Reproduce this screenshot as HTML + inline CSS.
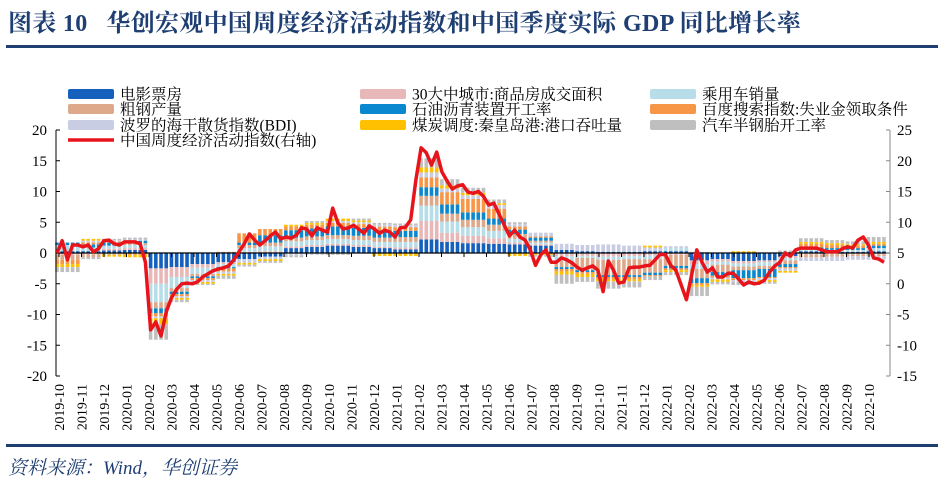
<!DOCTYPE html>
<html><head><meta charset="utf-8">
<style>
html,body{margin:0;padding:0;background:#fff;}
body{width:943px;height:484px;position:relative;overflow:hidden;font-family:"Liberation Serif","Noto Serif CJK SC",serif;}
#title{position:absolute;left:8px;top:3px;font-size:24px;font-weight:bold;color:#1F3F73;white-space:nowrap;letter-spacing:0.3px;}
#rule1{position:absolute;left:6px;top:45px;width:932px;height:3px;background:#1F3F73;}
#rule2{position:absolute;left:6px;top:444px;width:932px;height:3px;background:#1F3F73;}
#source{position:absolute;left:8px;top:453px;font-size:19px;font-style:italic;color:#1F3F73;}
svg{position:absolute;left:0;top:0;}
</style></head>
<body>
<div id="title">图表 10&nbsp;&nbsp;&nbsp;华创宏观中国周度经济活动指数和中国季度实际 GDP 同比增长率</div>
<div id="rule1"></div>
<svg id="chart" width="943" height="484"></svg>
<div id="rule2"></div>
<div id="source">资料来源：Wind，华创证券</div>
<script>
const monthLabels = ["2019-10","2019-11","2019-12","2020-01","2020-02","2020-03","2020-04","2020-05","2020-06","2020-07","2020-08","2020-09","2020-10","2020-11","2020-12","2021-01","2021-02","2021-03","2021-04","2021-05","2021-06","2021-07","2021-08","2021-09","2021-10","2021-11","2021-12","2022-01","2022-02","2022-03","2022-04","2022-05","2022-06","2022-07","2022-08","2022-09","2022-10"];
const seriesNames = ["电影票房","30大中城市:商品房成交面积","乘用车销量","粗钢产量","石油沥青装置开工率","百度搜索指数:失业金领取条件","波罗的海干散货指数(BDI)","煤炭调度:秦皇岛港:港口吞吐量","汽车半钢胎开工率"];
const seriesColors = ["#1560BD","#E8B8B8","#B7DDE8","#DDA98A","#0A88CF","#F79646","#C9CDE3","#FFC000","#BFBFBF"];
const leftTicks = [20,15,10,5,0,-5,-10,-15,-20];
const rightTicks = [25,20,15,10,5,0,-5,-10,-15];
// monthly contributions per component (left axis), order matches seriesNames
const movie   = [0.3,0.3,0.4,0.5,-2.5,-2.3,-1.8,-1.5,-1.0,-0.6,0.8,1.0,1.2,1.0,0.8,0.6,2.2,1.8,1.6,1.5,1.4,1.2,0.5,0.3,0.2,0.2,0.3,0.3,-1.2,-1.0,-1.3,-1.2,-0.5,0.3,0.2,0.2,0.3,0.2];
const housing = [-0.3,-0.2,0.3,0.3,-2.5,-1.6,-0.6,-0.3,0.2,0.3,0.3,0.3,0.3,0.3,0.2,0.3,3.0,1.5,1.2,0.9,0.3,0.2,-0.5,-0.5,-0.6,-0.5,-0.4,-0.3,-0.6,-0.4,-0.4,-0.3,-0.3,-0.2,-0.2,-0.2,-0.2,-0.2];
const cars    = [1.0,0.6,0.5,0.5,-3.0,-1.8,-1.0,-0.5,0.6,0.8,0.8,0.8,0.8,0.8,0.8,0.9,2.5,1.8,1.4,1.2,0.6,0.3,-0.8,-0.3,-0.5,-0.5,-0.6,0.5,-0.8,-0.5,-0.5,-0.6,-0.4,0.3,0.3,0.3,0.5,0.5];
const steel   = [-0.8,-0.5,-0.3,0.3,-1.0,-0.6,-0.4,0.2,0.5,0.6,0.6,0.6,0.6,0.7,0.7,0.8,1.6,1.3,1.2,1.0,0.8,0.3,-1.0,-2.0,-2.5,-2.6,-2.2,-1.8,-1.5,-1.2,-0.6,-0.5,-0.6,-0.5,-0.4,-0.3,-0.3,-0.3];
const asphalt = [0.4,0.5,0.5,0.4,-0.8,-0.4,-0.3,-0.2,0.4,1.2,1.2,1.3,1.4,1.3,1.2,1.0,1.4,1.5,1.2,1.0,0.7,0.5,-0.3,-0.3,-0.3,-0.3,-0.4,-0.4,-0.8,-0.6,-1.3,-1.3,-0.5,0.3,0.3,0.3,0.4,0.3];
const baidu   = [-0.7,0.3,0.2,-0.3,-0.5,-0.3,-0.3,-0.5,1.5,1.0,0.6,0.6,0.6,0.6,0.6,0.6,1.6,2.0,2.2,1.6,0.5,0.2,-0.4,-0.3,-0.4,-0.4,-0.2,-0.3,-0.3,-0.3,-0.3,-0.2,-0.2,0.6,0.5,0.4,0.3,-0.3];
const bdi     = [0,0.3,0.2,0.2,-0.3,-0.3,-0.3,-0.4,-0.6,-0.4,-0.4,-0.3,0.3,0.3,0.3,0.3,0.8,0.6,0.6,0.6,0.4,0.6,1.0,1.0,1.2,1.0,0.6,0.3,0.2,-0.3,-0.3,-0.3,-0.4,-0.6,-0.7,-0.6,-0.6,-0.6];
const coal    = [-0.5,0.3,-0.3,-0.4,-1.0,-0.3,-0.3,-0.3,-0.3,-0.3,0.3,0.3,0.4,0.3,-0.5,-0.5,0.8,0.5,0.4,0.3,-0.5,-0.3,-0.5,-0.5,-0.3,-0.3,0.3,-0.3,-0.3,-0.4,0.3,-0.3,-0.3,0.3,0.3,0.2,0.3,-1.0];
const tires   = [-0.8,-0.3,0.2,0.3,-2.5,-0.4,-0.2,-0.5,-0.3,-0.3,-0.3,0.3,-0.3,0.3,0.3,0.3,1.5,1.0,0.8,0.6,0.3,-0.3,-1.5,-0.8,-1.2,-1.0,-0.6,-0.5,-1.5,-0.4,-0.5,-0.3,0.4,0.6,0.5,0.5,0.8,0.5];
// weekly index (right axis)
const weeklyIndex = [5.0,7.0,3.9,6.3,6.3,6.0,6.3,5.2,5.7,7.0,7.1,6.5,6.3,6.8,6.8,6.8,6.5,3.5,-7.5,-6.2,-8.5,-4.6,-2.3,-0.9,0,0.1,0,0.3,1.1,1.6,2.1,2.4,2.6,2.9,3.9,5.2,6.5,8.1,7.1,6.3,7.0,7.8,8.4,7.3,7.6,7.4,7.9,9.1,8.9,7.8,9.1,8.7,8.4,12.3,9.9,8.9,9.1,9.5,8.9,8.2,9.4,8.9,8.2,8.7,8.4,7.6,9.1,9.2,10.4,16.9,22.1,21.3,19.3,21.4,18.2,16.7,15.4,15.9,16.1,14.9,14.7,15.0,14.2,12.8,13.1,11.3,9.5,7.8,8.7,7.6,7.1,5.5,3.0,4.7,5.5,3.5,3.5,4.2,3.9,3.4,2.7,2.2,2.6,2.9,2.2,-1.3,3.7,2.2,0.1,0.3,2.6,2.7,2.7,2.9,3.0,3.9,4.8,4.7,3.0,2.2,-0.2,-2.6,1.4,5.5,3.5,1.9,2.6,1.1,1.1,1.7,1.7,0.8,-0.2,0.3,0,0.1,0.6,1.9,2.9,3.5,5.0,4.5,5.5,5.8,5.8,5.8,5.8,5.5,5.2,5.2,5.2,5.7,6.0,5.8,7.1,7.6,6.3,4.2,4.0,3.5];
const components = [movie,housing,cars,steel,asphalt,baidu,bdi,coal,tires];

const NS="http://www.w3.org/2000/svg";
const svg=document.getElementById('chart');
const PL=56, PR=890, PT=130, PB=376;
const yL=v=>PT+(20-v)*(PB-PT)/40;
const yR=v=>PT+(25-v)*(PB-PT)/40;
const W0=57, DW=(884-57)/(weeklyIndex.length-1);
const xW=i=>W0+i*DW;
const xM=i=>59+22.5*i;
function mk(tag,attrs){const e=document.createElementNS(NS,tag);for(const k in attrs)e.setAttribute(k,attrs[k]);svg.appendChild(e);return e;}

// bars
const gBars=mk('g',{});


for(let w=0;w<weeklyIndex.length;w++){
  const m=Math.min(monthLabels.length-1,Math.max(0,Math.floor((xW(w)-57)/22.5)));
  let pos=0,neg=0;
  for(let s=0;s<components.length;s++){
    const v=components[s][m];
    if(v===0) continue;
    let y0,y1;
    if(v>0){y0=yL(pos+v);y1=yL(pos);pos+=v;}else{y0=yL(neg);y1=yL(neg+v);neg+=v;}
    const r=document.createElementNS(NS,'rect');
    r.setAttribute('x',xW(w)-1.8);r.setAttribute('y',y0);r.setAttribute('width',3.6);r.setAttribute('height',Math.max(0.5,y1-y0));
    r.setAttribute('fill',seriesColors[s]);
    
    
    gBars.appendChild(r);
  }
}
// zero line
const zl=mk('line',{x1:PL,x2:PR,y1:yL(0),y2:yL(0),stroke:'#000','stroke-width':1.2});


for(let i=0;i<monthLabels.length;i++){
  const t=mk('line',{x1:xM(i),x2:xM(i),y1:yL(0),y2:yL(0)+4,stroke:'#000','stroke-width':1});
  
  
}
// axes
const la=mk('line',{x1:PL,x2:PL,y1:PT,y2:PB,stroke:'#000','stroke-width':1});


const ra=mk('line',{x1:PR,x2:PR,y1:PT,y2:PB,stroke:'#888','stroke-width':1});


leftTicks.forEach(v=>{
  const t=mk('line',{x1:PL,x2:PL+4,y1:yL(v),y2:yL(v),stroke:'#000'});
  
  
  const tx=mk('text',{x:47,y:yL(v)+5,'text-anchor':'end','font-size':15,'font-family':'"Liberation Serif",serif',fill:'#000'});
  tx.textContent=v;
  
  
});
rightTicks.forEach(v=>{
  const t=mk('line',{x1:PR-4,x2:PR,y1:yR(v),y2:yR(v),stroke:'#888'});
  
  
  const tx=mk('text',{x:897,y:yR(v)+5,'text-anchor':'start','font-size':15,'font-family':'"Liberation Serif",serif',fill:'#000'});
  tx.textContent=v;
  
  
});
monthLabels.forEach((lab,i)=>{
  const tx=mk('text',{x:0,y:0,transform:`translate(${xM(i)+5},384) rotate(-90)`,'text-anchor':'end','font-size':14,'font-family':'"Liberation Serif",serif',fill:'#000'});
  tx.textContent=lab;
  
  
});
// red line
let d='';
weeklyIndex.forEach((v,i)=>{d+=(i?'L':'M')+xW(i).toFixed(1)+','+yR(v).toFixed(1);});
const pl=mk('path',{d:d,fill:'none',stroke:'#E8141C','stroke-width':3.5,'stroke-linejoin':'round'});



// legend
const legendPos=[[68,94],[360,94],[650,94],[68,109],[360,109],[650,109],[68,125],[360,125],[650,125]];
const legendOrder=[0,1,2,3,4,5,6,7,8];
legendOrder.forEach((s,k)=>{
  const [lx,ly]=legendPos[k];
  const r=mk('rect',{x:lx,y:ly-5,width:46,height:10,rx:2,fill:seriesColors[s]});
  
  
  const t=mk('text',{x:lx+52,y:ly+5.5,'font-size':15.5,'font-family':'"Liberation Serif","Noto Serif CJK SC",serif',fill:'#000'});
  t.textContent=seriesNames[s];
  
  
});
const lr=mk('line',{x1:68,x2:114,y1:140,y2:140,stroke:'#E8141C','stroke-width':3.5});


const lt=mk('text',{x:120,y:145.5,'font-size':15.5,'font-family':'"Liberation Serif","Noto Serif CJK SC",serif',fill:'#000'});
lt.textContent='中国周度经济活动指数(右轴)';


</script>
</body></html>
